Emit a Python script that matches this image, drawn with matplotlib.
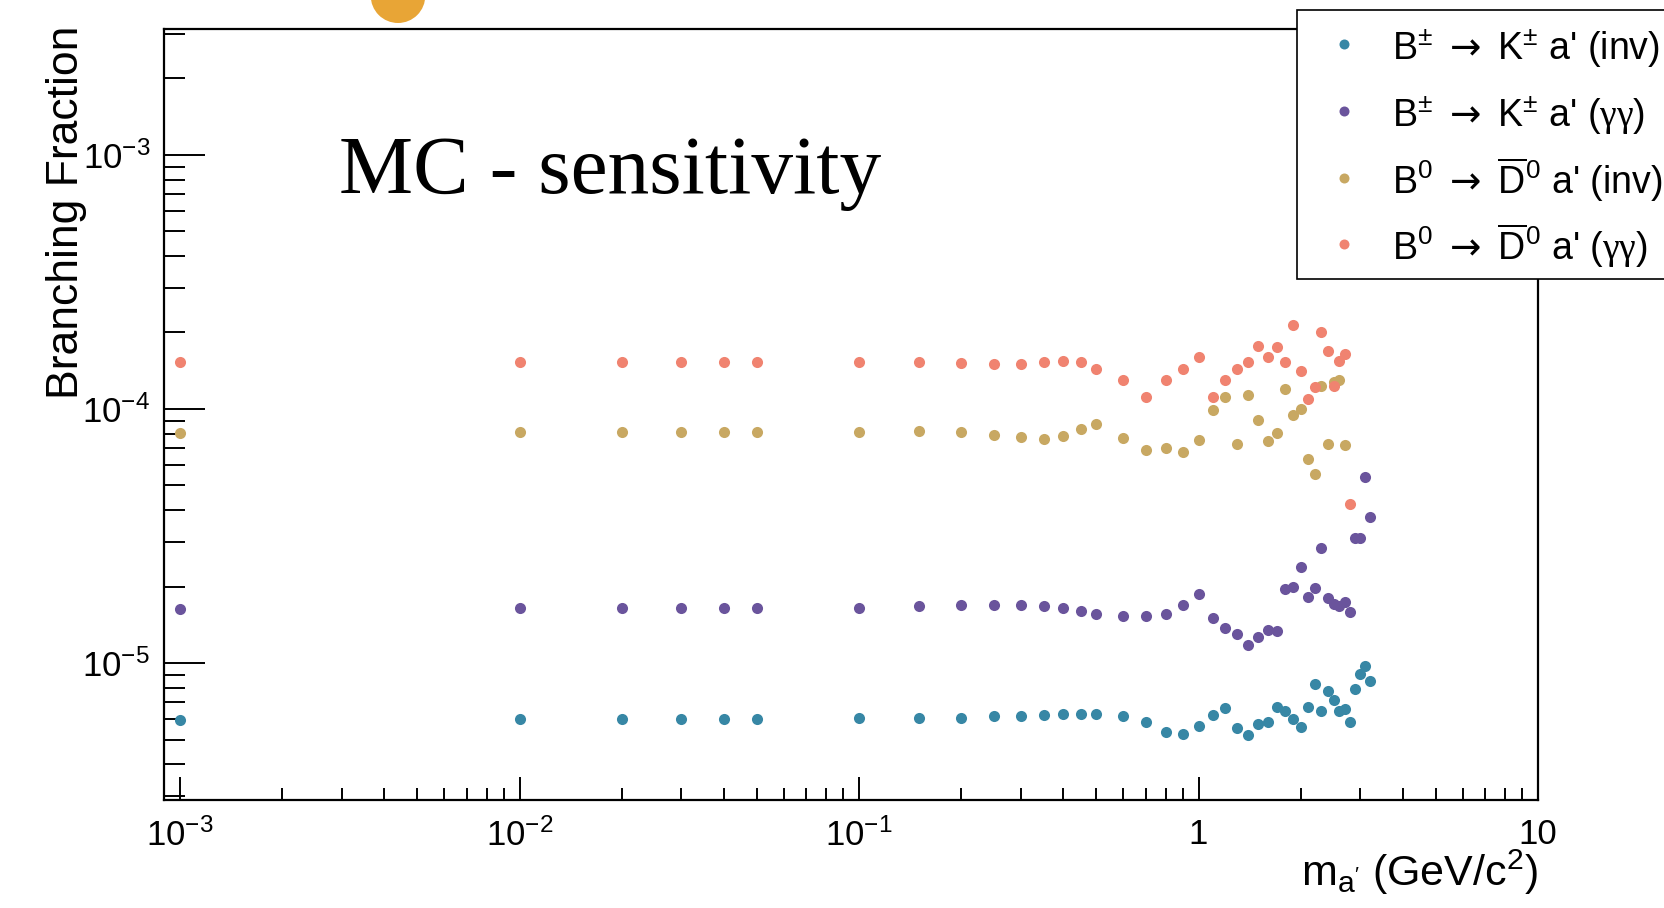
#!/usr/bin/env python

"""
  plot.py  --  MC sensitivity, branching fraction vs m_a'
"""

import matplotlib
matplotlib.use('Agg')
from matplotlib import pyplot as plt
from matplotlib.patches import Circle, Rectangle
from matplotlib.lines import Line2D
from matplotlib.ticker import FixedLocator, LogLocator, NullFormatter

plt.rcParams['font.family'] = ['Liberation Sans', 'DejaVu Sans']
plt.rcParams['mathtext.fontset'] = 'custom'
plt.rcParams['mathtext.rm'] = 'Liberation Sans'
plt.rcParams['mathtext.it'] = 'Liberation Sans:italic'
plt.rcParams['mathtext.bf'] = 'Liberation Sans:bold'
plt.rcParams['mathtext.sf'] = 'DejaVu Sans'        # long thin arrow
plt.rcParams['mathtext.cal'] = 'Liberation Serif'  # symbol-font style gamma

# --
# data

mass = [0.001, 0.01, 0.02, 0.03, 0.04, 0.05, 0.1,
        0.15, 0.2, 0.25, 0.3, 0.35, 0.4, 0.45, 0.5,
        0.6, 0.7, 0.8, 0.9, 1.0,
        1.1, 1.2, 1.3, 1.4, 1.5, 1.6, 1.7, 1.8, 1.9, 2.0,
        2.1, 2.2, 2.3, 2.4, 2.5, 2.6, 2.7, 2.8, 2.9, 3.0, 3.1, 3.2]

bf_k_inv = [5.98e-6, 6.03e-6, 6.03e-6, 6.03e-6, 6.03e-6, 6.03e-6, 6.05e-6,
            6.07e-6, 6.10e-6, 6.16e-6, 6.20e-6, 6.26e-6, 6.28e-6, 6.30e-6, 6.30e-6,
            6.18e-6, 5.84e-6, 5.35e-6, 5.25e-6, 5.64e-6,
            6.26e-6, 6.65e-6, 5.56e-6, 5.21e-6, 5.77e-6, 5.87e-6, 6.71e-6, 6.49e-6, 6.03e-6, 5.60e-6,
            6.70e-6, 8.29e-6, 6.50e-6, 7.78e-6, 7.17e-6, 6.50e-6, 6.59e-6, 5.84e-6, 7.87e-6, 9.05e-6,
            9.76e-6, 8.46e-6]

bf_k_gg = [1.626e-5, 1.644e-5, 1.644e-5, 1.644e-5, 1.644e-5, 1.644e-5, 1.65e-5,
           1.670e-5, 1.686e-5, 1.696e-5, 1.696e-5, 1.676e-5, 1.641e-5, 1.596e-5, 1.563e-5,
           1.526e-5, 1.531e-5, 1.561e-5, 1.686e-5, 1.874e-5,
           1.504e-5, 1.368e-5, 1.296e-5, 1.173e-5, 1.266e-5, 1.349e-5, 1.332e-5, 1.949e-5, 1.997e-5, 2.393e-5,
           1.819e-5, 1.967e-5, 2.843e-5, 1.803e-5, 1.712e-5, 1.670e-5, 1.732e-5, 1.588e-5, 3.105e-5, 3.105e-5,
           5.40e-5, 3.742e-5]

bf_d_inv = [8.04e-5, 8.13e-5, 8.13e-5, 8.13e-5, 8.13e-5, 8.13e-5, 8.15e-5,
            8.21e-5, 8.09e-5, 7.92e-5, 7.73e-5, 7.64e-5, 7.80e-5, 8.34e-5, 8.75e-5,
            7.66e-5, 6.91e-5, 7.02e-5, 6.77e-5, 7.52e-5,
            9.87e-5, 1.115e-4, 7.25e-5, 1.139e-4, 9.02e-5, 7.50e-5, 8.04e-5, 1.199e-4, 9.44e-5, 1.003e-4,
            6.37e-5, 5.56e-5, 1.232e-4, 7.25e-5, 1.273e-4, 1.305e-4, 7.19e-5]

bf_d_gg = [1.526e-4, 1.534e-4, 1.534e-4, 1.534e-4, 1.534e-4, 1.534e-4, 1.534e-4,
           1.530e-4, 1.517e-4, 1.508e-4, 1.508e-4, 1.531e-4, 1.549e-4, 1.531e-4, 1.441e-4,
           1.305e-4, 1.111e-4, 1.301e-4, 1.441e-4, 1.602e-4,
           1.111e-4, 1.305e-4, 1.432e-4, 1.535e-4, 1.775e-4, 1.596e-4, 1.754e-4, 1.535e-4, 2.147e-4, 1.406e-4,
           1.095e-4, 1.221e-4, 2.009e-4, 1.696e-4, 1.232e-4, 1.549e-4, 1.651e-4, 4.227e-5]

labels = [r"B$^{\pm}$ $\mathsf{\rightarrow}$ K$^{\pm}$ a' (inv)",
          r"B$^{\pm}$ $\mathsf{\rightarrow}$ K$^{\pm}$ a' ($\mathcal{\gamma\gamma}$)",
          r"B$^{0}$ $\mathsf{\rightarrow}$ $\overline{\mathrm{D}}^{0}$ a' (inv)",
          r"B$^{0}$ $\mathsf{\rightarrow}$ $\overline{\mathrm{D}}^{0}$ a' ($\mathcal{\gamma\gamma}$)"]
colors = ['#3787a5', '#6a549c', '#c8a862', '#f08370']

x_ticks = [1e-3, 1e-2, 1e-1, 1, 10]
x_ticklabels = [r'$10^{-3}$', r'$10^{-2}$', r'$10^{-1}$', '1', '10']
y_ticks = [1e-5, 1e-4, 1e-3]
y_ticklabels = [r'$10^{-5}$', r'$10^{-4}$', r'$10^{-3}$']

# --
# layout helpers (pixel -> figure fraction)

W, H = 1665, 908
def fx(px): return px / W
def fy(py): return 1 - py / H

def do_plot():
  fig = plt.figure(figsize=(W / 100, H / 100), dpi=100)
  ax = fig.add_axes([fx(164), fy(800), fx(1538) - fx(164), fy(29) - fy(800)])

  series = [bf_k_inv, bf_k_gg, bf_d_inv, bf_d_gg]
  for vals, c in zip(series, colors):
    ax.plot(mass[:len(vals)], vals, 'o', color=c, ms=8, mew=0, zorder=3)

  ax.set_xscale('log')
  ax.set_yscale('log')
  ax.set_xlim(8.97e-4, 10.0)
  ax.set_ylim(2.89e-6, 3.13e-3)

  ax.xaxis.set_major_locator(FixedLocator(x_ticks))
  ax.set_xticklabels(x_ticklabels)
  ax.yaxis.set_major_locator(FixedLocator(y_ticks))
  ax.set_yticklabels(y_ticklabels)
  ax.xaxis.set_minor_locator(LogLocator(base=10, subs=range(2, 10), numticks=20))
  ax.yaxis.set_minor_locator(LogLocator(base=10, subs=range(2, 10), numticks=20))
  ax.xaxis.set_minor_formatter(NullFormatter())
  ax.yaxis.set_minor_formatter(NullFormatter())

  ax.tick_params(axis='both', which='both', direction='in', top=False, right=False,
                 width=1.4, color='black', labelsize=25)
  ax.tick_params(axis='x', which='major', length=16.6, pad=13)
  ax.tick_params(axis='x', which='minor', length=8.3)
  ax.tick_params(axis='y', which='major', length=29.5, pad=10)
  ax.tick_params(axis='y', which='minor', length=14.8)
  for s in ax.spines.values():
    s.set_linewidth(1.6)
    s.set_color('black')

  # axis titles, ROOT style (flush with the axis ends)
  fig.text(fx(1538), fy(886), r"m$_{\mathrm{a'}}$ (GeV/c$^{2}$)", fontsize=31,
           ha='right', va='baseline')
  fig.text(fx(67), fy(26), 'Branching Fraction', fontsize=32, rotation=90,
           ha='center', va='top')

  # slide title and decoration
  fig.text(fx(339), fy(193), 'MC - sensitivity', family='Liberation Serif',
           fontsize=60, ha='left', va='baseline')
  fig.add_artist(Circle((3.98, 9.123), 0.273, transform=fig.dpi_scale_trans,
                        color='#e8a536', lw=0, zorder=5))

  # legend box (runs off the right edge like on the slide)
  fig.add_artist(Rectangle((fx(1297), fy(279)), fx(1720) - fx(1297), fy(10) - fy(279),
                           transform=fig.transFigure, facecolor='white',
                           edgecolor='black', lw=1.2, zorder=6))
  for i, (lab, c) in enumerate(zip(labels, colors)):
    base = 60 + 66.8 * i
    fig.add_artist(Line2D([fx(1344)], [fy(base - 16)], marker='o', ms=7.2, mew=0,
                          color=c, transform=fig.transFigure, zorder=7))
    fig.text(fx(1392), fy(base), lab, fontsize=27, ha='left', va='baseline', zorder=7)

  fig.savefig('out.png', dpi=100)

do_plot()
